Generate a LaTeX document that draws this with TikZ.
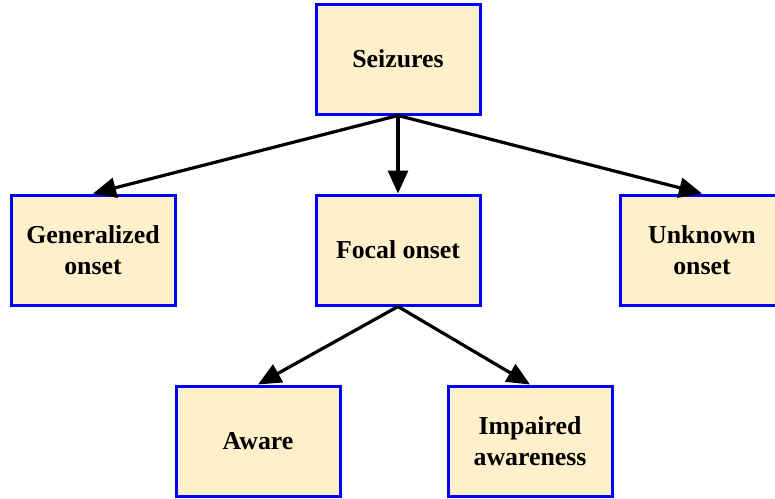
\documentclass[tikz,border=0pt]{standalone}
\usepackage{fontspec}
\setmainfont{Liberation Serif}
\usetikzlibrary{arrows.meta}

\definecolor{boxfill}{HTML}{FFF0CC}
\definecolor{boxline}{HTML}{0000FF}

\begin{document}
\begin{tikzpicture}[x=0.5pt, y=-0.5pt, >={Triangle[length=11.5pt, width=10pt]}]
  \tikzset{
    catbox/.style={draw=boxline, fill=boxfill, line width=1.5pt,
      minimum width=82pt, minimum height=55pt, align=center,
      font=\fontsize{12.9}{15.5}\selectfont\bfseries, inner sep=0pt},
    link/.style={->, line width=1.6pt}
  }
  \useasboundingbox (0,0) rectangle (775,498);

  % top level
  \node[catbox] (seiz) at (398,59) {Seizures};

  % onset types
  \node[catbox] (gen) at (93,250) {Generalized\\onset};
  \node[catbox] (focal) at (398,250) {Focal onset};
  \node[catbox] (unk) at (702,250) {Unknown\\onset};

  % focal subtypes
  \node[catbox] (aware) at (258,441) {Aware};
  \node[catbox] (impaired) at (530,441) {Impaired\\awareness};

  % links
  \draw[link] (seiz.south) -- (gen.north);
  \draw[link] (seiz.south) -- (focal.north);
  \draw[link] (seiz.south) -- (unk.north);
  \draw[link] (focal.south) -- (aware.north);
  \draw[link] (focal.south) -- (impaired.north);
\end{tikzpicture}
\end{document}
